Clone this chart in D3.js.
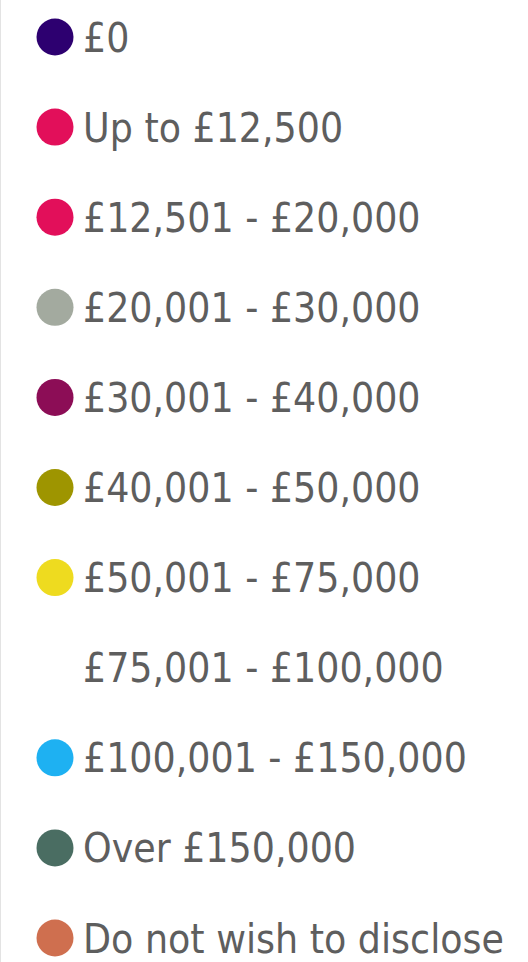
<!DOCTYPE html>
<html>
<head>
<meta charset="utf-8">
<script src="https://cdn.jsdelivr.net/npm/d3@7"></script>
<style>
  html, body { margin: 0; padding: 0; background: #fff; }
  svg { display: block; }
</style>
</head>
<body>
<div id="legend"></div>
<script>
// legend entries
var labels = ["£0", "Up to £12,500", "£12,501 - £20,000", "£20,001 - £30,000",
    "£30,001 - £40,000", "£40,001 - £50,000", "£50,001 - £75,000",
    "£75,001 - £100,000", "£100,001 - £150,000", "Over £150,000", "Do not wish to disclose"];
var colors = ["#2d0070", "#e20f5a", "#e20f5a", "#a3aa9f", "#8c0d56", "#9e9500",
    "#eedb1f", "#ffffff", "#1eb1f2", "#4a6d62", "#cf6f4f"];

var width = 528, height = 962;

var svg = d3.select("#legend").append("svg")
    .attr("width", width)
    .attr("height", height);

// left border
svg.append("line")
    .attr("x1", 0.5).attr("x2", 0.5)
    .attr("y1", 0).attr("y2", height)
    .style("stroke", "#e3e3e3");

var y = d3.scalePoint()
    .domain(labels)
    .range([37, 938]);

var item = svg.selectAll("g.item").data(labels)
    .enter().append("g")
    .attr("class", "item")
    .attr("transform", function (d) { return "translate(0," + y(d) + ")"; });

item.append("circle")
    .attr("cx", 55)
    .attr("cy", 0)
    .attr("r", 18.5)
    .style("fill", function (d, i) { return colors[i]; });

item.append("text")
    .attr("x", 83)
    .attr("dy", "0.36em")
    .style("font-family", "'DejaVu Sans Condensed', 'DejaVu Sans', sans-serif")
    .style("font-size", "40.5px")
    .style("fill", "#5e5e5e")
    .text(function (d) { return d; });
</script>
</body>
</html>
